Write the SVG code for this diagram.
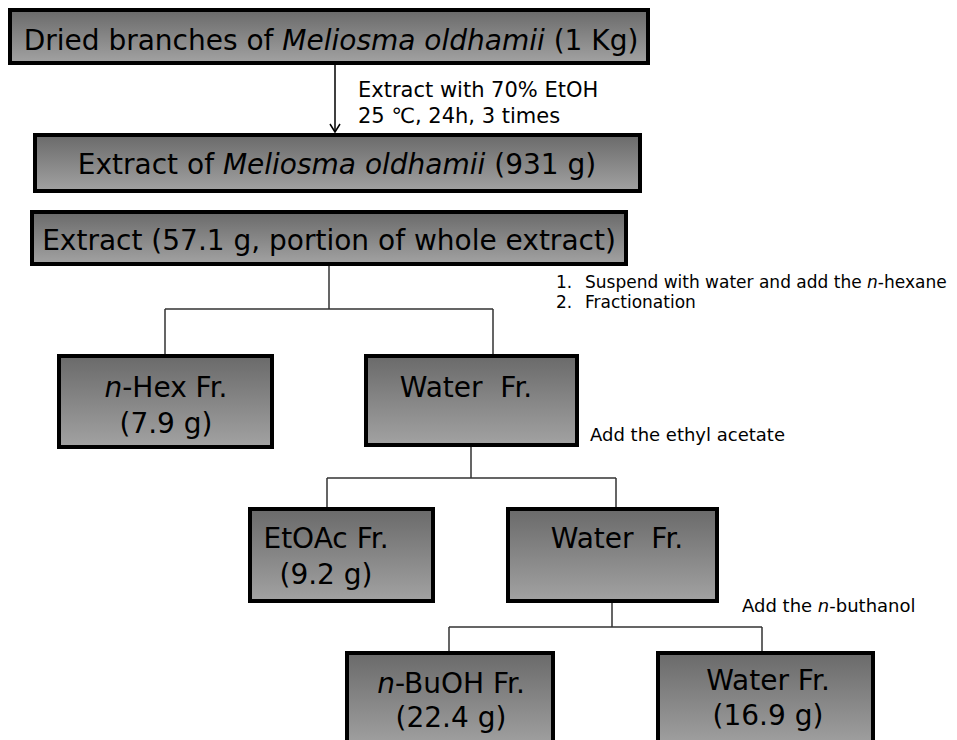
<svg xmlns="http://www.w3.org/2000/svg" width="957" height="740" viewBox="0 0 957 740">
<defs>
<linearGradient id="g" x1="0" y1="0" x2="0" y2="1">
<stop offset="0" stop-color="#6a6a6a"/>
<stop offset="1" stop-color="#a2a2a2"/>
</linearGradient>
<marker id="ah" markerWidth="14" markerHeight="14" refX="12" refY="7" orient="auto" markerUnits="userSpaceOnUse">
<path d="M4,2 L12,7 L4,12" fill="none" stroke="#000" stroke-width="1.5"/>
</marker>
</defs>
<style>
.box{fill:url(#g);stroke:#000;stroke-width:4}
.t{font-family:"DejaVu Sans","Noto Sans",sans-serif;fill:#000;text-anchor:middle;white-space:pre}
.big{font-size:28px}
.fr{font-size:28px}
.lab{font-family:"DejaVu Sans","Noto Sans",sans-serif;fill:#000;font-size:18px;white-space:pre}
.it{font-style:italic}
.ln{fill:none;stroke:#333;stroke-width:1.5}
</style>
<rect width="957" height="740" fill="#fff"/>
<g id="connectors">
<line x1="335" y1="63" x2="335" y2="132" stroke="#000" stroke-width="1.5" marker-end="url(#ah)"/>
<path class="ln" d="M329,265 V309 M165,309 H493 M165,309 V356 M493,309 V356"/>
<path class="ln" d="M471,445 V478 M327,478 H616 M327,478 V509 M616,478 V509"/>
<path class="ln" d="M612,601 V627 M449,627 H762 M449,627 V653 M762,627 V653"/>
</g>
<g id="n1">
<rect class="box" x="10" y="10" width="638" height="53"/>
<text class="t big" x="331" y="50">Dried branches of <tspan class="it">Meliosma oldhamii</tspan> (1 Kg)</text>
</g>
<g id="step1">
<text class="lab" x="358" y="97" style="font-size:21px">Extract with 70% EtOH</text>
<text class="lab" x="358" y="123" style="font-size:21px">25 ℃, 24h, 3 times</text>
</g>
<g id="n2">
<rect class="box" x="35" y="135" width="605" height="56"/>
<text class="t big" x="337" y="174">Extract of <tspan class="it">Meliosma oldhamii</tspan> (931 g)</text>
</g>
<g id="n3">
<rect class="box" x="32" y="212" width="594" height="52"/>
<text class="t big" x="329" y="250">Extract (57.1 g, portion of whole extract)</text>
</g>
<g id="step2">
<text class="lab" x="556" y="288" style="font-size:17px">1.</text>
<text class="lab" x="585" y="288" style="font-size:17px">Suspend with water and add the <tspan class="it">n</tspan>-hexane</text>
<text class="lab" x="556" y="308" style="font-size:17px">2.</text>
<text class="lab" x="585" y="308" style="font-size:17px">Fractionation</text>
</g>
<g id="n4">
<rect class="box" x="59" y="356" width="213" height="91"/>
<text class="t fr" x="166" y="397"><tspan class="it">n</tspan>-Hex Fr.</text>
<text class="t fr" x="166" y="433">(7.9 g)</text>
</g>
<g id="n5">
<rect class="box" x="366" y="356" width="211" height="89"/>
<text class="t fr" x="466" y="397">Water  Fr.</text>
</g>
<g id="step3">
<text class="lab" x="590" y="441">Add the ethyl acetate</text>
</g>
<g id="n6">
<rect class="box" x="250" y="509" width="183" height="92"/>
<text class="t fr" x="326" y="548">EtOAc Fr.</text>
<text class="t fr" x="326" y="584">(9.2 g)</text>
</g>
<g id="n7">
<rect class="box" x="508" y="509" width="209" height="92"/>
<text class="t fr" x="617" y="548">Water  Fr.</text>
</g>
<g id="step4">
<text class="lab" x="742" y="612">Add the <tspan class="it">n</tspan>-buthanol</text>
</g>
<g id="n8">
<rect class="box" x="347" y="653" width="206" height="95"/>
<text class="t fr" x="451" y="693"><tspan class="it">n</tspan>-BuOH Fr.</text>
<text class="t fr" x="451" y="727">(22.4 g)</text>
</g>
<g id="n9">
<rect class="box" x="658" y="653" width="215" height="95"/>
<text class="t fr" x="768" y="690">Water Fr.</text>
<text class="t fr" x="768" y="725">(16.9 g)</text>
</g>
</svg>
